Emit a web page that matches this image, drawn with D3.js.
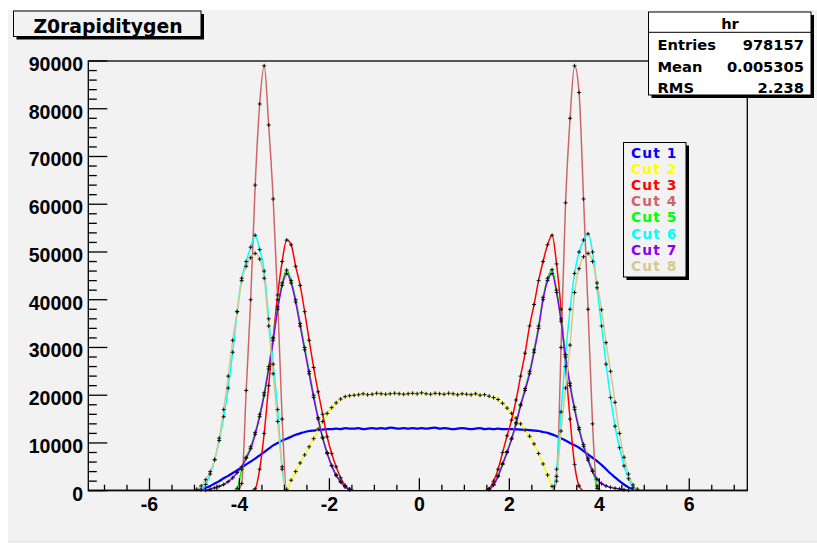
<!DOCTYPE html>
<html><head><meta charset="utf-8">
<script src="https://cdn.jsdelivr.net/npm/d3@7"></script>
<style>
html,body{margin:0;padding:0;background:#fff;}
svg text{font-family:"Liberation Sans",Arial,Helvetica,sans-serif;font-weight:bold;}
</style></head>
<body>
<svg id="c" width="817" height="543"></svg>
<script>
// ---- data ----
const title = "Z0rapiditygen";
const statName = "hr";
const statLabels = ["Entries", "Mean", "RMS"];
const statValues = ["978157", "0.005305", "2.238"];
const seriesNames = ["Cut 1","Cut 2","Cut 3","Cut 4","Cut 5","Cut 6","Cut 7","Cut 8"];
const seriesColors = ["#0000ff","#ffff00","#ff0000","#cc6666","#00ff00","#00ffff","#8a00f0","#d2c98e"];
const xTicks = [-6,-4,-2,0,2,4,6];
const yTicks = [0,10000,20000,30000,40000,50000,60000,70000,80000,90000];
// bin centres -4.95 ... 4.95 (bin width 0.1)
const binCenters = [
-4.95,-4.85,-4.75,-4.65,-4.55,-4.45,-4.35,-4.25,-4.15,-4.05,
-3.95,-3.85,-3.75,-3.65,-3.55,-3.45,-3.35,-3.25,-3.15,-3.05,
-2.95,-2.85,-2.75,-2.65,-2.55,-2.45,-2.35,-2.25,-2.15,-2.05,
-1.95,-1.85,-1.75,-1.65,-1.55,-1.45,-1.35,-1.25,-1.15,-1.05,
-0.95,-0.85,-0.75,-0.65,-0.55,-0.45,-0.35,-0.25,-0.15,-0.05,
0.05,0.15,0.25,0.35,0.45,0.55,0.65,0.75,0.85,0.95,
1.05,1.15,1.25,1.35,1.45,1.55,1.65,1.75,1.85,1.95,
2.05,2.15,2.25,2.35,2.45,2.55,2.65,2.75,2.85,2.95,
3.05,3.15,3.25,3.35,3.45,3.55,3.65,3.75,3.85,3.95,
4.05,4.15,4.25,4.35,4.45,4.55,4.65,4.75,4.85,4.95];
const cut1 = [
100,300,600,1000,1500,2000,2600,3100,3700,4300,
4900,5500,6100,6700,7400,8100,8800,9500,10000,10500,
10900,11300,11700,12000,12300,12500,12600,12700,12800,12900,
12900,13000,12900,13100,13000,13000,13100,12900,13000,13100,
13000,13100,13000,13200,13100,13000,13100,13000,13100,13000,
13100,13000,13100,13200,13000,13100,13000,12900,13000,13100,
13000,12900,13000,13100,12900,13000,12900,13000,12900,12900,
12900,12850,12800,12750,12700,12600,12500,12300,12100,11800,
11400,11000,10500,10000,9500,9000,8300,7600,6900,6200,
5400,4500,3600,2800,2000,1300,700,300,100,0];
const cut2 = [
0,0,0,0,0,0,0,0,0,0,
0,0,0,0,0,0,0,0,0,0,
300,2200,4000,5800,7500,9200,10900,12900,14500,16200,
17400,18400,19200,19700,19900,20000,20100,20300,20100,20200,
20400,20300,20200,20300,20400,20300,20200,20300,20400,20300,
20500,20300,20200,20400,20300,20200,20400,20300,20100,20300,
20200,20100,20300,20000,20100,19800,19500,19100,18300,17300,
16200,15200,14000,12700,11400,9800,7800,5600,3300,900,
0,0,0,0,0,0,0,0,0,0,
0,0,0,0,0,0,0,0,0,0];
const cut3 = [
0,0,0,0,0,0,0,0,0,0,
0,0,0,400,4500,12000,22000,32000,41000,48000,
52500,51500,47000,43000,37500,31500,25800,20700,16000,11300,
7800,5000,2700,1100,300,0,0,0,0,0,
0,0,0,0,0,0,0,0,0,0,
0,0,0,0,0,0,0,0,0,0,
0,0,0,0,0,400,2000,4500,8000,11500,
14800,19000,24000,28800,34500,39000,44000,48000,51500,53500,
47500,38000,26000,15000,5500,1000,0,0,0,0,
0,0,0,0,0,0,0,0,0,0];
const cut4 = [
0,0,0,0,0,0,0,0,0,0,
1500,21000,40000,64000,81000,89000,76600,61100,40000,15000,
0,0,0,0,0,0,0,0,0,0,
0,0,0,0,0,0,0,0,0,0,
0,0,0,0,0,0,0,0,0,0,
0,0,0,0,0,0,0,0,0,0,
0,0,0,0,0,0,0,0,0,0,
0,0,0,0,0,0,0,0,0,0,
2000,30000,60300,78000,89000,83400,61100,38000,14000,500,
0,0,0,0,0,0,0,0,0,0];
const cut5 = [
0,0,0,0,0,0,0,0,0,500,
4500,7000,9200,12200,16000,20500,26000,32000,38500,43500,
46200,44000,40000,35000,30000,25000,20000,15300,11200,8000,
5300,3300,1900,900,300,0,0,0,0,0,
0,0,0,0,0,0,0,0,0,0,
0,0,0,0,0,0,0,0,0,0,
0,0,0,0,0,300,1300,3100,5700,8200,
11000,14300,18100,21400,25000,29500,34500,40500,44500,46300,
42000,36000,28500,22500,17500,13200,9700,6800,4300,1000,
0,0,0,0,0,0,0,0,0,0];
const cut6 = [
0,200,1300,3500,6500,10500,15500,21500,29000,37500,
44500,48000,51000,53500,50500,46000,36000,26500,17000,4500,
0,0,0,0,0,0,0,0,0,0,
0,0,0,0,0,0,0,0,0,0,
0,0,0,0,0,0,0,0,0,0,
0,0,0,0,0,0,0,0,0,0,
0,0,0,0,0,0,0,0,0,0,
0,0,0,0,0,0,0,0,0,0,
4500,16500,28500,38000,45500,50000,52500,53800,50000,42500,
34500,26500,19500,13500,9000,5200,2500,600,0,0];
const cut7 = [
0,0,100,300,600,900,1300,1900,2700,3800,
5000,6800,8800,11800,15500,20000,25500,31500,38000,43000,
45500,43500,39500,34500,29500,24500,19500,15000,11000,7800,
5200,3200,1800,800,250,0,0,0,0,0,
0,0,0,0,0,0,0,0,0,0,
0,0,0,0,0,0,0,0,0,0,
0,0,0,0,0,300,1200,3000,5500,8000,
10800,14000,17800,21000,24500,29000,34000,40000,44000,45500,
41500,35500,28000,22000,17000,12800,9300,6400,4000,2400,
1500,1000,700,500,350,200,100,0,0,0];
const cut8 = [
300,1000,2300,4000,6500,11000,17000,24000,31500,37500,
44000,47000,48800,49700,48500,44500,34500,24500,14500,5000,
0,0,0,0,0,0,0,0,0,0,
0,0,0,0,0,0,0,0,0,0,
0,0,0,0,0,0,0,0,0,0,
0,0,0,0,0,0,0,0,0,0,
0,0,0,0,0,0,0,0,0,0,
0,0,0,0,0,0,0,0,0,0,
3000,12500,21500,30500,41500,46500,49000,49700,48000,43500,
37900,31000,25000,18500,12000,7000,3500,1200,300,0];
const seriesValues = [cut1,cut2,cut3,cut4,cut5,cut6,cut7,cut8];
const showMarkers = [false,true,true,true,true,true,true,true];

// ---- layout ----
const W=817,H=543;
const frame={l:88.3,t:61,r:747.3,b:490.7};
const bg="#f2f2f2";
const svg=d3.select("#c");
svg.append("rect").attr("x",0).attr("y",0).attr("width",W).attr("height",H).attr("fill","#fff");
svg.append("rect").attr("x",8).attr("y",10).attr("width",W-8).attr("height",531.5).attr("fill",bg);
svg.append("line").attr("x1",8).attr("x2",W).attr("y1",541.8).attr("y2",541.8).attr("stroke","#d8d8d8").attr("stroke-width",1);

const x=d3.scaleLinear().domain([-7.36,7.29]).range([frame.l,frame.r]);
const y=d3.scaleLinear().domain([0,90000]).range([frame.b,frame.t]);

const plot=svg.append("g");
const clipId="clipf";
svg.append("clipPath").attr("id",clipId).append("rect")
  .attr("x",frame.l).attr("y",frame.t-2).attr("width",frame.r-frame.l).attr("height",frame.b-frame.t+2);

const line=d3.line().x(d=>x(d[0])).y(d=>y(d[1])).curve(d3.curveMonotoneX);
const widths=[2.2,1.5,1.5,1.5,1.5,1.5,1.5,1.5];
seriesValues.forEach((vals,k)=>{
  const pts=[[x.domain()[0],0],[-5.05,0]].concat(binCenters.map((c,i)=>[c,vals[i]])).concat([[5.05,0],[x.domain()[1],0]]);
  plot.append("path").datum(pts).attr("d",line).attr("fill","none")
    .attr("stroke",seriesColors[k]).attr("stroke-width",widths[k]).attr("clip-path",`url(#${clipId})`);
});
// error crosses
seriesValues.forEach((vals,k)=>{
  if(!showMarkers[k]) return;
  const g=plot.append("g").attr("stroke","#111").attr("stroke-width",1);
  binCenters.forEach((c,i)=>{
    const v=vals[i]; if(v<=0) return;
    const cx=x(c), cy=y(v);
    const e=Math.max(2, y(0)-y(Math.sqrt(v)));
    g.append("line").attr("x1",cx-2).attr("x2",cx+2).attr("y1",cy).attr("y2",cy);
    g.append("line").attr("x1",cx).attr("x2",cx).attr("y1",cy-e).attr("y2",cy+e);
  });
});

// frame
svg.append("rect").attr("x",frame.l).attr("y",frame.t).attr("width",frame.r-frame.l).attr("height",frame.b-frame.t)
  .attr("fill","none").attr("stroke","#000").attr("stroke-width",1.3);

// x axis ticks
const xMinor=d3.range(-7,7.3,0.5);
const ax=svg.append("g").attr("stroke","#000").attr("stroke-width",1.3);
xMinor.forEach(t=>{
  const major=xTicks.includes(t);
  ax.append("line").attr("x1",x(t)).attr("x2",x(t)).attr("y1",frame.b).attr("y2",frame.b-(major?12.5:6));
});
svg.append("g").selectAll("text").data(xTicks).join("text")
  .attr("x",d=>x(d)).attr("y",510.7).attr("text-anchor","middle").attr("font-size",19.5).attr("fill","#000")
  .text(d=>d);
// y axis ticks
const yMinor=d3.range(0,90001,2000);
yMinor.forEach(t=>{
  const major=t%10000===0;
  ax.append("line").attr("x1",frame.l).attr("x2",frame.l+(major?19:8.5)).attr("y1",y(t)).attr("y2",y(t));
});
svg.append("g").selectAll("text").data(yTicks).join("text")
  .attr("x",83).attr("y",d=>y(d)+9.8).attr("text-anchor","end").attr("font-size",19.5).attr("fill","#000")
  .text(d=>d);

// title box
function shadowBox(x0,y0,w,h,fill){
  svg.append("rect").attr("x",x0+3).attr("y",y0+3).attr("width",w).attr("height",h).attr("fill","#000");
  svg.append("rect").attr("x",x0).attr("y",y0).attr("width",w).attr("height",h).attr("fill",fill)
    .attr("stroke","#000").attr("stroke-width",1);
}
shadowBox(13.5,11,187.5,25.5,bg);
svg.append("text").attr("x",108).attr("y",32.7).attr("text-anchor","middle")
  .attr("font-size",18.8).style("font-family","'DejaVu Sans',sans-serif").text(title);

// stats box
shadowBox(648.5,12,162.5,83,"#fff");
svg.append("line").attr("x1",648.5).attr("x2",811).attr("y1",32.3).attr("y2",32.3).attr("stroke","#000");
svg.append("text").attr("x",730).attr("y",29).attr("text-anchor","middle").attr("font-size",14.7)
  .style("font-family","'DejaVu Sans',sans-serif").text(statName);
statLabels.forEach((s,i)=>{
  const by=50+i*21.7;
  svg.append("text").attr("x",657.5).attr("y",by).attr("font-size",14.7).style("font-family","'DejaVu Sans',sans-serif").text(s);
  svg.append("text").attr("x",804).attr("y",by).attr("text-anchor","end").attr("font-size",14.7).style("font-family","'DejaVu Sans',sans-serif").text(statValues[i]);
});

// legend
shadowBox(623.5,142.5,62.5,134.5,bg);
seriesNames.forEach((s,i)=>{
  svg.append("text").attr("x",631).attr("y",157.8+i*16.14).attr("font-size",13.8)
    .style("font-family","'DejaVu Sans',sans-serif").style("letter-spacing","1.1px")
    .attr("fill",seriesColors[i]).text(s);
});
</script>
</body></html>
